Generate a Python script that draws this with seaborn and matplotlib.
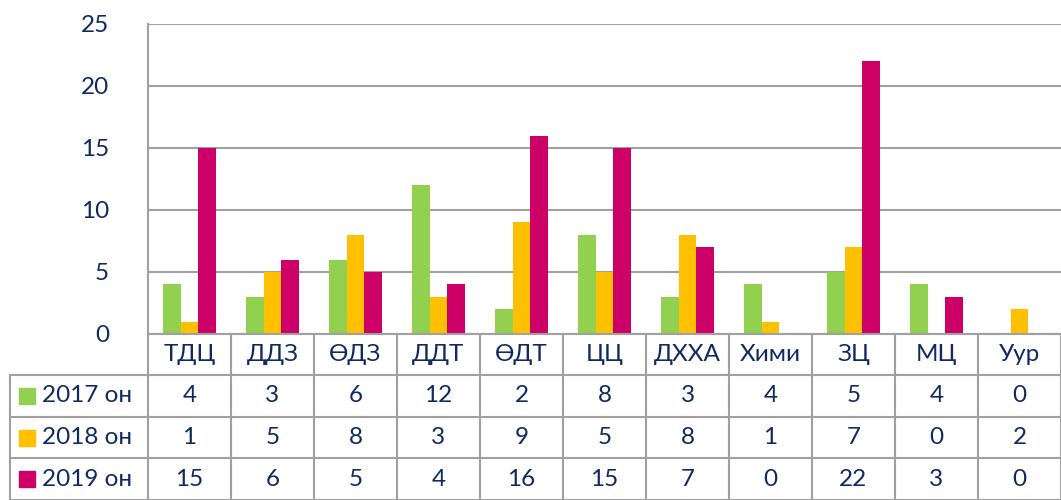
import matplotlib
matplotlib.use("Agg")
import matplotlib.pyplot as plt
import matplotlib.transforms as mtransforms
import pandas as pd
import seaborn as sns

categories = ["ТДЦ", "ДДЗ", "ӨДЗ", "ДДТ", "ӨДТ", "ЦЦ", "ДХХА", "Хими", "ЗЦ", "МЦ", "Уур"]
series_names = ["2017 он", "2018 он", "2019 он"]
values_2017 = [4, 3, 6, 12, 2, 8, 3, 4, 5, 4, 0]
values_2018 = [1, 5, 8, 3, 9, 5, 8, 1, 7, 0, 2]
values_2019 = [15, 6, 5, 4, 16, 15, 7, 0, 22, 3, 0]
y_ticks = [0, 5, 10, 15, 20, 25]

colors = ["#92d050", "#ffc000", "#cc0066"]
text_color = "#0f2a63"
grid_color = "#a0a0a0"

W, H = 1061, 500

sns.set_style("white")
plt.rcParams["font.family"] = ["Lato", "DejaVu Sans"]

series = [values_2017, values_2018, values_2019]
rows = []
for name, vals in zip(series_names, series):
    for cat, v in zip(categories, vals):
        rows.append({"cat": cat, "year": name, "value": v})
df = pd.DataFrame(rows)

fig = plt.figure(figsize=(W / 100, H / 100), dpi=100)
left, right, top, bottom = 148, 1061, 24, 334
ax = fig.add_axes([left / W, 1 - bottom / H, (right - left) / W, (bottom - top) / H])

sns.barplot(data=df, x="cat", y="value", hue="year", order=categories,
            hue_order=series_names, palette=colors, width=0.65, gap=0,
            saturation=1, legend=False, linewidth=0, ax=ax)

ax.set_xlim(-0.5, len(categories) - 0.5)
ax.set_ylim(0, 25)
ax.set_yticks(y_ticks)
ax.set_yticklabels([str(t) for t in y_ticks], fontsize=17.5, color=text_color)
ax.tick_params(axis="y", length=0, pad=28)
ax.set_xticks([])
ax.set_xlabel("")
ax.set_ylabel("")
ax.grid(axis="y", color=grid_color, linewidth=1.5)
ax.set_axisbelow(True)
for side in ["top", "right", "bottom"]:
    ax.spines[side].set_visible(False)
ax.spines["left"].set_color(grid_color)
ax.spines["left"].set_linewidth(1.5)

# data table below the axes
tr = mtransforms.blended_transform_factory(ax.transData, fig.transFigure)
tpix = fig.transFigure
row_y = [334, 375, 417, 458, 500]
fy = lambda p: 1 - p / H
n = len(categories)
lw = 1.5

# horizontal lines
ax.plot([-0.5, n - 0.5], [fy(row_y[0])] * 2, transform=tr, color=grid_color, lw=lw, clip_on=False)
for yy in row_y[1:]:
    ax.plot([10 / W, 1], [fy(yy)] * 2, transform=tpix, color=grid_color, lw=lw, clip_on=False)
# vertical lines
for k in range(n + 1):
    ax.plot([k - 0.5, k - 0.5], [fy(row_y[0]), fy(row_y[-1])], transform=tr,
            color=grid_color, lw=lw, clip_on=False)
ax.plot([10 / W, 10 / W], [fy(row_y[1]), fy(row_y[-1])], transform=tpix,
        color=grid_color, lw=lw, clip_on=False)

# category labels
for i, cat in enumerate(categories):
    ax.text(i, fy((row_y[0] + row_y[1]) / 2), cat, transform=tr, ha="center",
            va="center", fontsize=17.5, color=text_color)

# series rows
for r, (name, vals, col) in enumerate(zip(series_names, series, colors)):
    yc = fy((row_y[r + 1] + row_y[r + 2]) / 2)
    fig.patches.append(plt.Rectangle((19 / W, yc - 8 / H), 16 / W, 16 / H,
                                     transform=fig.transFigure, color=col))
    fig.text(42 / W, yc, name, ha="left", va="center", fontsize=17.5, color=text_color)
    for i, v in enumerate(vals):
        ax.text(i, yc, str(v), transform=tr, ha="center", va="center",
                fontsize=17.5, color=text_color)

fig.savefig("out.png", dpi=100)
